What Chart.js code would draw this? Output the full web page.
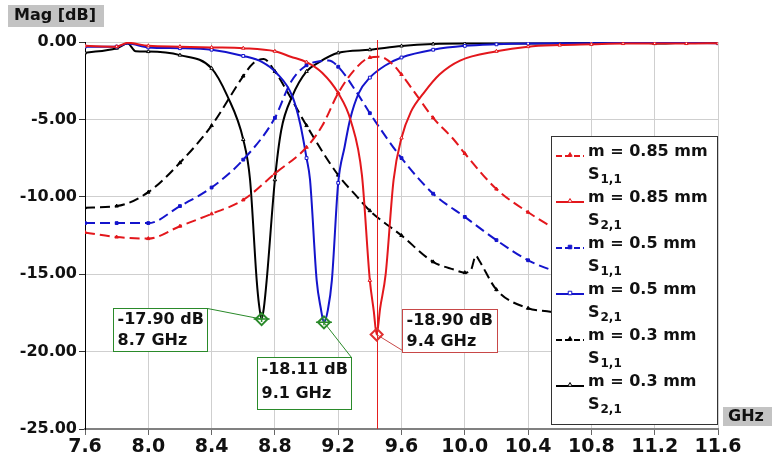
<!DOCTYPE html>
<html>
<head>
<meta charset="utf-8">
<script src="https://cdn.jsdelivr.net/npm/chart.js@4.4.0/dist/chart.umd.min.js"></script>
<style>
  body { margin: 0; background: #fff; }
  #wrap { width: 772px; height: 461px; }
</style>
</head>
<body>
<div id="wrap"><canvas id="chart" width="772" height="461"></canvas></div>
<script>
// Частоты (ГГц) и уровни (дБ)
const freqS11_085 = [7.6, 7.8, 8.0, 8.2, 8.4, 8.6, 8.8, 9.0, 9.1, 9.2, 9.32, 9.4, 9.46, 9.54, 9.6, 9.7, 9.8, 9.93, 10.0, 10.2, 10.4, 10.6, 10.8, 11.0, 11.2, 11.4, 11.6];
const magS11_085 = [-12.3, -12.6, -12.7, -11.9, -11.1, -10.2, -8.5, -6.8, -5.4, -3.3, -1.6, -1.0, -0.95, -1.4, -2.1, -3.5, -4.9, -6.3, -7.2, -9.5, -11.0, -12.2, -13.0, -13.7, -14.3, -14.8, -15.3];

const freqS21_085 = [7.6, 7.8, 7.87, 8.0, 8.2, 8.4, 8.6, 8.8, 8.9, 9.0, 9.1, 9.2, 9.28, 9.35, 9.4, 9.425, 9.443, 9.465, 9.5, 9.55, 9.6, 9.66, 9.74, 9.84, 9.97, 10.2, 10.4, 10.6, 10.8, 11.0, 11.2, 11.4, 11.6];
const magS21_085 = [-0.25, -0.3, -0.05, -0.25, -0.3, -0.35, -0.4, -0.6, -0.95, -1.3, -2.0, -3.3, -5.1, -8.6, -15.4, -17.4, -18.9, -17.2, -15.0, -8.9, -6.2, -4.5, -3.3, -2.1, -1.2, -0.6, -0.3, -0.2, -0.15, -0.1, -0.1, -0.1, -0.08];

const freqS11_05 = [7.6, 7.8, 8.0, 8.2, 8.4, 8.6, 8.8, 8.9, 9.0, 9.08, 9.14, 9.2, 9.32, 9.4, 9.6, 9.8, 10.0, 10.2, 10.4, 10.6, 10.8, 11.0, 11.2, 11.4, 11.6];
const magS11_05 = [-11.7, -11.7, -11.7, -10.6, -9.4, -7.6, -4.9, -2.6, -1.5, -1.25, -1.2, -1.6, -3.3, -4.6, -7.5, -9.8, -11.3, -12.8, -14.1, -14.9, -15.4, -15.7, -16.0, -16.3, -16.5];

const freqS21_05 = [7.6, 7.8, 7.87, 8.0, 8.2, 8.4, 8.6, 8.72, 8.81, 8.91, 8.96, 9.0, 9.022, 9.064, 9.09, 9.11, 9.135, 9.16, 9.2, 9.24, 9.275, 9.33, 9.4, 9.5, 9.6, 9.8, 10.0, 10.2, 10.4, 10.8, 11.2, 11.6];
const magS21_05 = [-0.3, -0.3, -0.1, -0.35, -0.4, -0.5, -0.9, -1.3, -2.0, -3.5, -5.3, -7.5, -8.9, -15.4, -17.2, -18.11, -17.3, -15.4, -9.1, -6.8, -5.0, -3.3, -2.3, -1.5, -1.0, -0.5, -0.25, -0.15, -0.1, -0.08, -0.05, -0.08];

const freqS11_03 = [7.6, 7.8, 8.0, 8.2, 8.4, 8.6, 8.66, 8.73, 8.8, 8.9, 9.0, 9.2, 9.32, 9.4, 9.6, 9.8, 9.93, 10.0, 10.04, 10.07, 10.09, 10.2, 10.4, 10.52, 10.8, 11.0, 11.2, 11.4, 11.6];
const magS11_03 = [-10.7, -10.6, -9.7, -7.8, -5.4, -2.2, -1.4, -1.1, -1.9, -3.6, -5.4, -8.6, -10.0, -10.9, -12.5, -14.2, -14.7, -14.9, -14.7, -13.8, -14.1, -16.0, -17.2, -17.4, -17.8, -18.0, -18.2, -18.4, -18.6];

const freqS21_03 = [7.6, 7.8, 7.87, 7.92, 8.0, 8.2, 8.4, 8.5, 8.6, 8.643, 8.685, 8.7, 8.716, 8.73, 8.748, 8.8, 8.84, 8.91, 9.0, 9.08, 9.2, 9.4, 9.6, 9.8, 10.0, 10.4, 10.8, 11.0, 11.1, 11.2, 11.4, 11.6];
const magS21_03 = [-0.7, -0.4, -0.1, -0.6, -0.62, -0.85, -1.7, -3.5, -6.3, -8.9, -15.4, -17.0, -17.9, -17.2, -15.4, -8.9, -5.7, -3.5, -1.9, -1.3, -0.7, -0.5, -0.26, -0.13, -0.1, -0.1, -0.05, -0.05, 0.0, -0.1, -0.05, -0.05];

// Подписи легенды
const seriesNames = ["m = 0.85 mm", "m = 0.85 mm", "m = 0.5 mm", "m = 0.5 mm", "m = 0.3 mm", "m = 0.3 mm"];
const seriesParams = ["1,1", "2,1", "1,1", "2,1", "1,1", "2,1"];

// Маркеры резонансов
const markerFreq = [8.716, 9.11, 9.443];
const markerMag = [-17.90, -18.11, -18.90];
const markerText = [["-17.90 dB", "8.7 GHz"], ["-18.11 dB", "9.1 GHz"], ["-18.90 dB", "9.4 GHz"]];

// Деления осей
const xTicks = [7.6, 8.0, 8.4, 8.8, 9.2, 9.6, 10.0, 10.4, 10.8, 11.2, 11.6];
const yTicks = [-25, -20, -15, -10, -5, 0];

const RED = "#e3171c";
const BLUE = "#1414cc";
const BLACK = "#000000";
const GREEN = "#2a8a2a";
const FONT = "DejaVu Sans";

function toPoints(freq, mag) {
  return freq.map((f, i) => ({ x: f, y: mag[i] }));
}

// маленькие значки только на шаге 0.2 ГГц
function markRadius(ctx) {
  const p = ctx.raw;
  if (!p) return 0;
  const k = p.x / 0.2;
  return Math.abs(k - Math.round(k)) < 0.01 ? 2 : 0;
}

function series(freq, mag, color, dashed, style, filled) {
  return {
    data: toPoints(freq, mag),
    borderColor: color,
    backgroundColor: filled ? color : "#ffffff",
    borderWidth: 2,
    borderDash: dashed ? [10, 5] : [],
    pointStyle: style,
    pointRadius: markRadius,
    pointBorderWidth: 1,
    pointBorderColor: color,
    pointBackgroundColor: filled ? color : "#ffffff",
    cubicInterpolationMode: "monotone",
    fill: false,
  };
}

const datasets = [
  series(freqS11_085, magS11_085, RED, true, "triangle", true),
  series(freqS21_085, magS21_085, RED, false, "triangle", false),
  series(freqS11_05, magS11_05, BLUE, true, "rect", true),
  series(freqS21_05, magS21_05, BLUE, false, "rect", false),
  series(freqS11_03, magS11_03, BLACK, true, "triangle", true),
  series(freqS21_03, magS21_03, BLACK, false, "triangle", false),
];

// Размещение рамок с подписями относительно маркера
const boxLayout = [
  { dx: -149, dy: -11, w: 94, h: 43, color: GREEN, lineTo: [94, 0] },
  { dx: -67, dy: 35, w: 94, h: 52, color: GREEN, lineTo: [94, 0] },
  { dx: 25, dy: -26, w: 95, h: 43, color: "#c84848", lineTo: [0, 41] },
];

function drawDiamond(ctx, x, y, color, cross) {
  ctx.save();
  ctx.strokeStyle = color;
  ctx.lineWidth = 2;
  ctx.beginPath();
  ctx.moveTo(x, y - 6);
  ctx.lineTo(x + 6, y);
  ctx.lineTo(x, y + 6);
  ctx.lineTo(x - 6, y);
  ctx.closePath();
  ctx.stroke();
  if (cross) {
    ctx.lineWidth = 1.5;
    ctx.beginPath();
    ctx.moveTo(x - 8, y);
    ctx.lineTo(x + 8, y);
    ctx.moveTo(x, y - 3);
    ctx.lineTo(x, y + 3);
    ctx.stroke();
  }
  ctx.restore();
}

function drawLegendSample(ctx, ds, x, y) {
  ctx.save();
  ctx.strokeStyle = ds.borderColor;
  ctx.fillStyle = ds.pointBackgroundColor;
  ctx.lineWidth = 2;
  ctx.setLineDash(ds.borderDash.length ? [6, 3] : []);
  ctx.beginPath();
  ctx.moveTo(x, y);
  ctx.lineTo(x + 28, y);
  ctx.stroke();
  ctx.setLineDash([]);
  ctx.lineWidth = 1;
  Chart.helpers.drawPoint(ctx, {
    pointStyle: ds.pointStyle,
    radius: 2.5,
    borderWidth: 1,
  }, x + 14, y - 1);
  ctx.restore();
}

const decorPlugin = {
  id: "decor",
  beforeDraw(chart) {
    const ctx = chart.ctx;
    ctx.save();
    ctx.fillStyle = "#ffffff";
    ctx.fillRect(0, 0, chart.width, chart.height);
    ctx.restore();
  },
  afterDatasetsDraw(chart) {
    const ctx = chart.ctx;
    const xs = chart.scales.x;
    const ys = chart.scales.y;
    const area = chart.chartArea;

    // вертикальная линия маркера 9.4 ГГц
    const vx = Math.round(xs.getPixelForValue(markerFreq[2])) + 0.5;
    ctx.save();
    ctx.strokeStyle = "#e41e1e";
    ctx.lineWidth = 1;
    ctx.setLineDash([]);
    ctx.beginPath();
    ctx.moveTo(vx, area.top - 2);
    ctx.lineTo(vx, area.bottom);
    ctx.stroke();
    ctx.restore();

    // маркеры и рамки
    markerFreq.forEach((f, i) => {
      const px = xs.getPixelForValue(f);
      const py = ys.getPixelForValue(markerMag[i]);
      const b = boxLayout[i];
      const bx = Math.round(px + b.dx) + 0.5;
      const by = Math.round(py + b.dy) + 0.5;

      ctx.save();
      ctx.strokeStyle = b.color;
      ctx.lineWidth = 1;
      ctx.beginPath();
      ctx.moveTo(px, py);
      ctx.lineTo(bx + b.lineTo[0], by + b.lineTo[1]);
      ctx.stroke();

      ctx.fillStyle = "#ffffff";
      ctx.fillRect(bx, by, b.w, b.h);
      ctx.strokeRect(bx, by, b.w, b.h);

      ctx.fillStyle = "#111111";
      ctx.font = "bold 16px '" + FONT + "'";
      ctx.textBaseline = "middle";
      ctx.textAlign = "left";
      const gap = b.h > 46 ? 24 : 21;
      const top = b.h > 46 ? 12 : 11;
      ctx.fillText(markerText[i][0], bx + 4, by + top);
      ctx.fillText(markerText[i][1], bx + 4, by + top + gap);
      ctx.restore();

      drawDiamond(ctx, px, py, i === 2 ? "#e03030" : GREEN, i !== 2);
    });
  },
  afterDraw(chart) {
    const ctx = chart.ctx;
    ctx.save();

    // подпись оси Y
    ctx.fillStyle = "#c3c3c3";
    ctx.fillRect(8, 5, 96, 22);
    ctx.fillStyle = "#111111";
    ctx.font = "bold 16px '" + FONT + "'";
    ctx.textBaseline = "middle";
    ctx.textAlign = "left";
    ctx.fillText("Mag [dB]", 14, 16);

    // подпись оси X
    ctx.fillStyle = "#c3c3c3";
    ctx.fillRect(723, 407, 49, 19);
    ctx.fillStyle = "#111111";
    ctx.fillText("GHz", 728, 417);

    // легенда
    const lx = 551.5, ly = 136.5, lw = 166, lh = 288;
    ctx.fillStyle = "#ffffff";
    ctx.fillRect(lx, ly, lw, lh);
    ctx.strokeStyle = "#333333";
    ctx.lineWidth = 1;
    ctx.strokeRect(lx, ly, lw, lh);

    chart.data.datasets.forEach((ds, i) => {
      const y = 152 + i * 46;
      drawLegendSample(ctx, ds, 556, y + 4);
      ctx.fillStyle = "#111111";
      ctx.font = "bold 16px '" + FONT + "'";
      ctx.fillText(seriesNames[i], 588, y);
      ctx.fillText("S", 588, y + 23);
      const sw = ctx.measureText("S").width;
      ctx.font = "bold 12px '" + FONT + "'";
      ctx.fillText(seriesParams[i], 588 + sw + 1, y + 28);
    });
    ctx.restore();
  },
};

const tickFont = { family: FONT, weight: "bold" };

new Chart(document.getElementById("chart"), {
  type: "line",
  data: { datasets: datasets },
  options: {
    responsive: false,
    animation: false,
    layout: { padding: { top: 42, right: 54, left: 0, bottom: 0 } },
    plugins: {
      legend: { display: false },
      tooltip: { enabled: false },
    },
    scales: {
      x: {
        type: "linear",
        min: 7.6,
        max: 11.6,
        afterBuildTicks: (s) => {
          s.ticks = xTicks.map((v) => ({ value: v }));
        },
        afterFit: (s) => {
          s.height = 32;
        },
        ticks: {
          callback: (v) => Number(v).toFixed(1),
          font: { ...tickFont, size: 19 },
          color: "#111111",
          padding: 1,
          maxRotation: 0,
          autoSkip: false,
        },
        grid: { color: "#cfcfcf", tickLength: 6, tickColor: "#666666" },
        border: { color: "#808080", width: 2 },
      },
      y: {
        min: -25,
        max: 0,
        afterBuildTicks: (s) => {
          s.ticks = yTicks.map((v) => ({ value: v }));
        },
        afterFit: (s) => {
          s.width = 85;
        },
        ticks: {
          callback: (v) => Number(v).toFixed(2),
          font: { ...tickFont, size: 16 },
          color: "#111111",
          padding: 2,
        },
        grid: { color: "#cfcfcf", tickLength: 6, tickColor: "#333333" },
        border: { color: "#000000", width: 1 },
      },
    },
  },
  plugins: [decorPlugin],
});
</script>
</body>
</html>
